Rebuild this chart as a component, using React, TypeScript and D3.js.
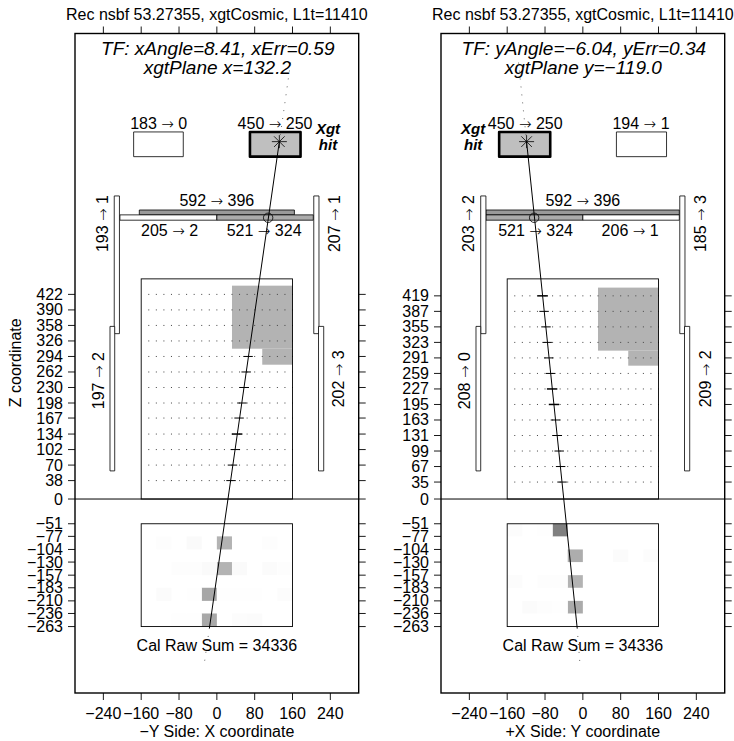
import React from "react";
import * as d3 from "d3";

// detector coordinates of both views
const xDomain = [-300, 300];
const zDomain = [-400, 960];
const xTicks = [-240, -160, -80, 0, 80, 160, 240];
const calTicks = [-51, -77, -104, -130, -157, -183, -210, -236, -263];
const minus = (v: number | string) => String(v).replace("-", "\u2212");

// tracker layers
const xLayers = [422, 390, 358, 326, 294, 262, 230, 198, 167, 134, 102, 70, 38];
const yLayers = [419, 387, 355, 323, 291, 259, 227, 195, 163, 131, 99, 67, 35];
const dotColumns = d3.range(-144, 161, 16);

// hits: [layer z, x, bold]
const xHits = [
  [294, 66, 0], [262, 62, 0], [230, 58, 0], [198, 53, 0], [167, 47, 0],
  [134, 43, 1], [102, 39, 0], [70, 33, 0], [38, 30, 0],
];
const yHits = [
  [419, -85, 1], [387, -82, 0], [355, -78, 0], [323, -75.5, 0], [291, -72, 0],
  [259, -68, 0], [227, -65, 1], [195, -61, 1], [163, -58, 0], [131, -54, 0],
  [99, -50, 0], [67, -47, 0], [35, -44, 0],
];

// shaded tracker area: [x0, x1, zTop, zBottom]
const xShade = [[32, 160, 440, 310], [96, 160, 310, 277]];
const yShade = [[32, 160, 436, 306], [96, 160, 306, 275]];

// calorimeter cells: [zTop, zBottom, x0, energy fraction]
const xCal = [
  [-77, -104, 0, 0.3], [-77, -104, -64, 0.02], [-77, -104, -128, 0.008], [-77, -104, 96, 0.006],
  [-130, -157, 0, 0.3], [-130, -157, -32, 0.02], [-130, -157, -96, 0.008], [-130, -157, -64, 0.008],
  [-130, -157, 32, 0.02], [-130, -157, 96, 0.016], [-130, -157, 128, 0.008],
  [-183, -210, -32, 0.35], [-183, -210, -128, 0.016], [-183, -210, -64, 0.004], [-183, -210, 0, 0.004],
  [-183, -210, 32, 0.004], [-183, -210, 64, 0.004], [-183, -210, 128, 0.012],
  [-236, -263, -32, 0.34], [-236, -263, -96, 0.004], [-236, -263, -64, 0.004], [-236, -263, 32, 0.01], [-236, -263, 64, 0.016],
];
const yCal = [
  [-51, -77, -64, 0.5], [-51, -77, -160, 0.012], [-51, -77, -96, 0.004],
  [-104, -130, -32, 0.32], [-104, -130, 64, 0.014], [-104, -130, 128, 0.012],
  [-157, -183, -32, 0.3], [-157, -183, -160, 0.012], [-157, -183, -96, 0.006], [-157, -183, -64, 0.006],
  [-210, -236, -32, 0.33], [-210, -236, -128, 0.016], [-210, -236, -96, 0.008], [-210, -236, -64, 0.004],
];

// tiles: [x0, x1, zTop, zBottom, raw, pedestal-subtracted]
const xAcd = [
  [-164, 164, 596, 586, 592, 396],
  [-205, 0, 586, 575, 205, 2],
  [0, 204, 586, 575, 521, 324],
  [-217, -206, 625, 341, 193, 1],
  [-226, -216, 356, 58, 197, 2],
  [205, 216, 625, 341, 207, 1],
  [215, 226, 356, 58, 202, 3],
];
const yAcd = [
  [-205, 204, 596, 586, 592, 396],
  [-205, 0, 586, 575, 521, 324],
  [0, 204, 586, 575, 206, 1],
  [-216, -205, 625, 341, 203, 2],
  [-226, -216, 356, 58, 208, 0],
  [205, 216, 625, 341, 185, 3],
  [215, 226, 356, 58, 209, 2],
];
const xXgt = [[-176, -71, 757, 706, 183, 0], [70, 177, 757, 706, 450, 250]];
const yXgt = [[-177, -69, 757, 706, 450, 250], [71, 177, 757, 706, 194, 1]];

// labels: [x, z, raw, after, rotated]
const xLabels = [
  [-123, 763, 183, 0, 0], [123, 763, 450, 250, 0],
  [0, 605, 592, 396, 0], [-100, 543, 205, 2, 0], [100, 543, 521, 324, 0],
  [-241, 568, 193, 1, 1], [250, 568, 207, 1, 1], [-250, 244, 197, 2, 1], [259, 248, 202, 3, 1],
];
const yLabels = [
  [-122, 763, 450, 250, 0], [123, 763, 194, 1, 0],
  [0, 605, 592, 396, 0], [-100, 543, 521, 324, 0], [100, 543, 206, 1, 0],
  [-240, 568, 203, 2, 1], [250, 568, 185, 3, 1], [-249, 244, 208, 0, 1], [261, 248, 209, 2, 1],
];

// track: [x, z] ends of the solid and the dotted pieces
const xTrack = { top: [156, 900], plane: [132.2, 737], end: [-15.7, -266], low: [-27, -342], acd: [108.5, 580] };
const yTrack = { top: [-136, 900], plane: [-119, 737], end: [-12, -266], low: [-6, -342], acd: [-103, 580] };

const titleText = "Rec nsbf 53.27355, xgtCosmic, L1t=11410";
const sumText = "Cal Raw Sum = 34336";

const width = 283.7;
const top = 33.5;
const bottom = 693;
const font = "'Liberation Sans', Arial, sans-serif";
const gray = d3.scaleLinear<string>().domain([0, 1]).range(["#fff", "#000"]).clamp(true);

function Tile({ t, x, z, thick }: any) {
  return (
    <rect
      x={x(t[0])}
      y={z(t[2])}
      width={x(t[1]) - x(t[0])}
      height={z(t[3]) - z(t[2])}
      fill={gray(t[5] / 1000)}
      stroke="#000"
      strokeWidth={thick ? 2.6 : 0.8}
      strokeLinejoin="round"
    />
  );
}

// the arrow comes from a wider font, like the symbol font of the original
function Arrow() {
  return <tspan fontFamily="'DejaVu Sans'" fontSize={15} fontWeight={200}>{"\u2192"}</tspan>;
}

function Panel({ left, layers, hits, shade, cal, acd, xgt, labels, track, tf, plane, xgtX, xLabel, zLabel }: any) {
  const x = d3.scaleLinear().domain(xDomain).range([left, left + width]);
  const z = d3.scaleLinear().domain(zDomain).range([bottom, top]);
  const line = d3.line<number[]>().x((d) => x(d[0])).y((d) => z(d[1]));
  const zTicks = [...layers, 0, ...calTicks];
  const [sx, sz] = [x(track.plane[0]), z(track.plane[1])];

  return (
    <g fontFamily={font} fill="#000">
      {/* tracker */}
      {shade.map((s: number[], i: number) => (
        <rect key={i} x={x(s[0])} y={z(s[2])} width={x(s[1]) - x(s[0])} height={z(s[3]) - z(s[2])} fill="#b3b3b3" />
      ))}
      {layers.map((l: number) =>
        dotColumns.map((c) => <rect key={l + "_" + c} x={x(c) - 0.5} y={z(l) - 0.5} width={1} height={1} fill="#444" />)
      )}
      <rect x={x(-160)} y={z(454)} width={x(160) - x(-160)} height={z(0) - z(454)} fill="none" stroke="#000" strokeWidth={0.9} />

      {/* calorimeter */}
      {cal.map((c: number[], i: number) => (
        <rect key={i} x={x(c[2])} y={z(c[0])} width={x(c[2] + 32) - x(c[2])} height={z(c[1]) - z(c[0])} fill={gray(c[3])} />
      ))}
      <rect x={x(-160)} y={z(-51)} width={x(160) - x(-160)} height={z(-263) - z(-51)} fill="none" stroke="#000" strokeWidth={0.9} />

      {/* tiles */}
      {acd.map((t: number[], i: number) => <Tile key={i} t={t} x={x} z={z} />)}
      {xgt.map((t: number[], i: number) => <Tile key={i} t={t} x={x} z={z} thick={t[5] > 100} />)}

      {/* track */}
      {hits.map((h: number[], i: number) => (
        <line key={i} x1={x(h[1] - (h[2] ? 11 : 10))} x2={x(h[1] + (h[2] ? 11 : 10))} y1={z(h[0])} y2={z(h[0])} stroke="#000" strokeWidth={h[2] ? 1.5 : 1} />
      ))}
      <path d={line([track.plane, track.end]) as string} fill="none" stroke="#000" strokeWidth={1} />
      <path d={line([track.top, track.plane]) as string} fill="none" stroke="#555" strokeWidth={0.9} strokeDasharray="1 7" />
      <path d={line([track.end, track.low]) as string} fill="none" stroke="#555" strokeWidth={0.9} strokeDasharray="1 7" />
      <circle cx={x(track.acd[0])} cy={z(track.acd[1])} r={4.7} fill="none" stroke="#000" strokeWidth={0.8} />
      {d3.range(0, 180, 45).map((a) => {
        const r = a === 90 ? 6.5 : 7.5;
        const dx = r * Math.cos((a * Math.PI) / 180);
        const dy = r * Math.sin((a * Math.PI) / 180);
        return <line key={a} x1={sx - dx} x2={sx + dx} y1={sz - dy} y2={sz + dy} stroke="#000" strokeWidth={0.8} />;
      })}

      {/* box and axes */}
      <rect x={left} y={top} width={width} height={bottom - top} fill="none" stroke="#000" strokeWidth={1.4} />
      <line x1={left} x2={left + width} y1={z(0)} y2={z(0)} stroke="#000" strokeWidth={1} />
      {zTicks.map((v: number) => (
        <g key={v} stroke="#000" strokeWidth={0.9}>
          <line x1={left - 7} x2={left} y1={z(v)} y2={z(v)} />
          <line x1={left + width} x2={left + width + 7} y1={z(v)} y2={z(v)} />
        </g>
      ))}
      {zTicks.map((v: number) => (
        <text key={v} x={left - 12} y={z(v) + 5.5} textAnchor="end" fontSize={16}>{minus(v)}</text>
      ))}
      {xTicks.map((v) => (
        <g key={v} stroke="#000" strokeWidth={0.9}>
          <line x1={x(v)} x2={x(v)} y1={bottom} y2={bottom + 7} />
          <line x1={x(v)} x2={x(v)} y1={top - 7} y2={top} />
        </g>
      ))}
      {xTicks.map((v) => (
        <text key={v} x={x(v)} y={719} textAnchor="middle" fontSize={16}>{minus(v)}</text>
      ))}

      {/* text */}
      <text x={x(0)} y={737} textAnchor="middle" fontSize={16}>{xLabel}</text>
      {zLabel && (
        <text transform={`translate(21,${z(281)}) rotate(-90)`} textAnchor="middle" fontSize={16}>{zLabel}</text>
      )}
      <text x={x(0)} y={20} textAnchor="middle" fontSize={16}>{titleText}</text>
      <text x={x(2)} y={55} textAnchor="middle" fontSize={19} fontStyle="italic">{tf}</text>
      <text x={x(1)} y={74} textAnchor="middle" fontSize={19} fontStyle="italic">{plane}</text>
      <text x={x(0)} y={z(-313)} textAnchor="middle" fontSize={16}>{sumText}</text>
      <text x={x(xgtX)} y={134} textAnchor="middle" fontSize={15} fontWeight="bold" fontStyle="italic">Xgt</text>
      <text x={x(xgtX)} y={150} textAnchor="middle" fontSize={15} fontWeight="bold" fontStyle="italic">hit</text>
      {labels.map((l: number[], i: number) => {
        const s = (
          <>
            {l[2] + " "}
            <Arrow />
            {" " + l[3]}
          </>
        );
        return l[4] ? (
          <text key={i} transform={`translate(${x(l[0]) + 5},${z(l[1])}) rotate(-90)`} textAnchor="middle" fontSize={16}>{s}</text>
        ) : (
          <text key={i} x={x(l[0])} y={z(l[1])} textAnchor="middle" fontSize={16}>{s}</text>
        );
      })}
    </g>
  );
}

export default function App() {
  return (
    <svg width={734} height={741} style={{ position: "absolute", left: 0, top: 0 }}>
      <rect width={734} height={741} fill="#fff" />
      <Panel
        left={75}
        layers={xLayers}
        hits={xHits}
        shade={xShade}
        cal={xCal}
        acd={xAcd}
        xgt={xXgt}
        labels={xLabels}
        track={xTrack}
        tf={"TF: xAngle=8.41, xErr=0.59"}
        plane={"xgtPlane x=132.2"}
        xgtX={235}
        xLabel={"\u2212Y Side: X coordinate"}
        zLabel="Z coordinate"
      />
      <Panel
        left={441}
        layers={yLayers}
        hits={yHits}
        shade={yShade}
        cal={yCal}
        acd={yAcd}
        xgt={yXgt}
        labels={yLabels}
        track={yTrack}
        tf={"TF: yAngle=\u22126.04, yErr=0.34"}
        plane={"xgtPlane y=\u2212119.0"}
        xgtX={-232}
        xLabel={"+X Side: Y coordinate"}
      />
    </svg>
  );
}
